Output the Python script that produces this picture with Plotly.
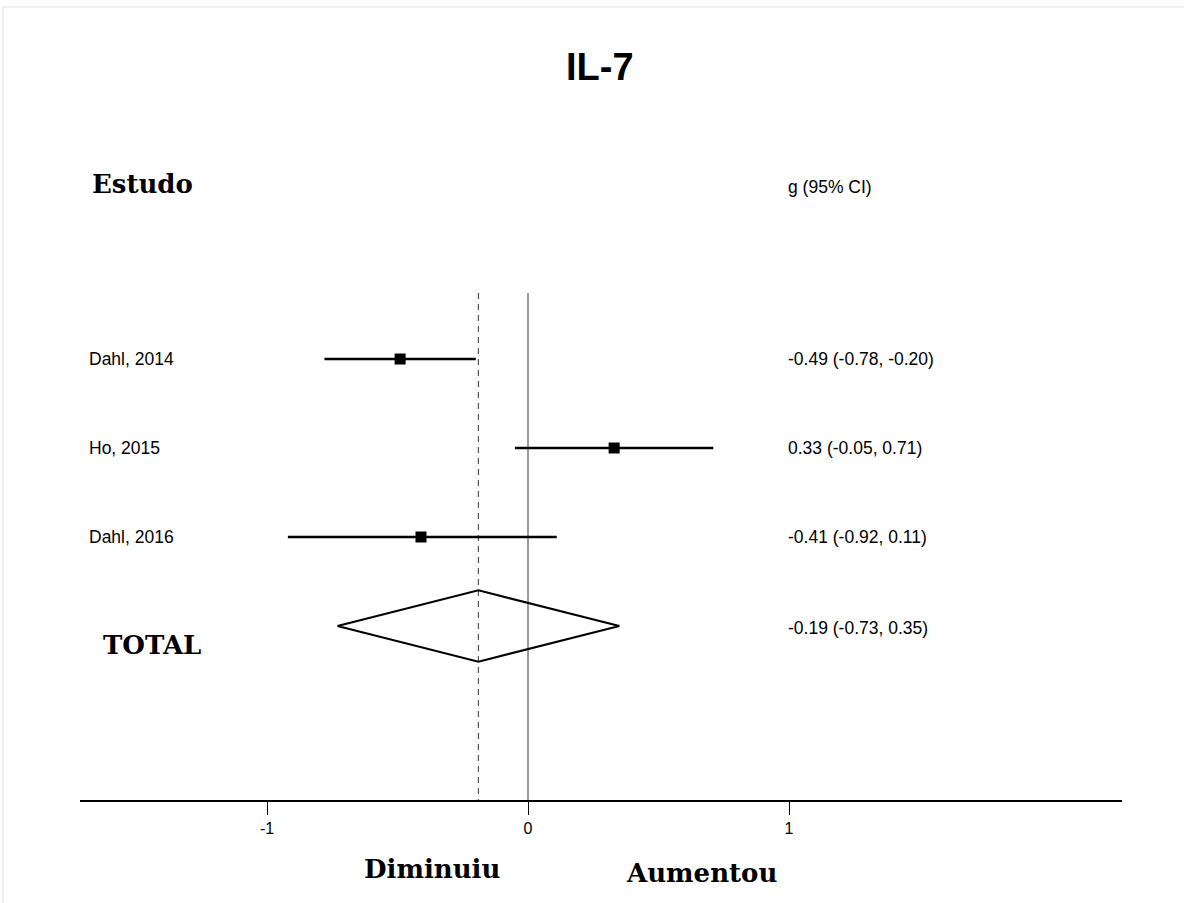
import plotly.graph_objects as go

# Study-level effect sizes (Hedges' g) with 95% confidence intervals
studies = ["Dahl, 2014", "Ho, 2015", "Dahl, 2016"]
g_values = [-0.49, 0.33, -0.41]
ci_low = [-0.78, -0.05, -0.92]
ci_high = [-0.20, 0.71, 0.11]

# Pooled estimate
total_label = "TOTAL"
total_g = -0.19
total_low = -0.73
total_high = 0.35

x_ticks = [-1, 0, 1]
x_tick_text = ["-1", "0", "1"]

title_text = "IL-7"
study_header = "Estudo"
effect_header = "g (95% CI)"
left_label = "Diminuiu"
right_label = "Aumentou"

# Figure geometry (pixels)
W, H = 1184, 903
L, R, T, B = 80, 62, 270, 103
PW, PH = W - L - R, H - T - B
X_RANGE = [-1.7165, 2.2759]
ROW_PX = 89.0
Y_RANGE = [PH / ROW_PX, 0]


def px_x(p):
    return (p - L) / PW


def px_y(p):
    return 1 - (p - T) / PH


def fmt_ci(g, lo, hi):
    return f"{g:.2f} ({lo:.2f}, {hi:.2f})"


rows = list(range(1, len(studies) + 1))
total_row = len(studies) + 1

serif = "DejaVu Serif"
sans = "Liberation Sans, Arial, sans-serif"
label_size = 17.5
head_size = 26

fig = go.Figure()

# Confidence interval whiskers
for r, lo, hi in zip(rows, ci_low, ci_high):
    fig.add_trace(go.Scatter(
        x=[lo, hi], y=[r, r], mode="lines",
        line=dict(color="black", width=2.5),
        showlegend=False, hoverinfo="skip"))

# Point estimates
fig.add_trace(go.Scatter(
    x=g_values, y=rows, mode="markers",
    marker=dict(symbol="square", size=11, color="black"),
    showlegend=False, hoverinfo="skip"))

# Pooled diamond
half_h = 0.4
fig.add_trace(go.Scatter(
    x=[total_low, total_g, total_high, total_g, total_low],
    y=[total_row, total_row - half_h, total_row, total_row + half_h, total_row],
    mode="lines", line=dict(color="black", width=2),
    showlegend=False, hoverinfo="skip"))

# Reference lines: null effect and pooled estimate
y_top = (293 - T) / ROW_PX
fig.add_shape(type="line", xref="x", yref="y", x0=0, x1=0, y0=y_top, y1=Y_RANGE[0],
              line=dict(color="#7a7a7a", width=1.5), layer="below")
fig.add_shape(type="line", xref="x", yref="y", x0=total_g, x1=total_g, y0=y_top, y1=Y_RANGE[0],
              line=dict(color="#555555", width=1.2, dash="6px,5px"), layer="below")

# Light frame around the page
fig.add_shape(type="rect", xref="paper", yref="paper",
              x0=px_x(3), x1=px_x(W + 10), y0=px_y(7), y1=px_y(H + 10),
              line=dict(color="#ececec", width=1.5))

ann = []
ann.append(dict(text=f"<b>{title_text}</b>", x=px_x(600), y=px_y(67),
                font=dict(family=sans, size=38, color="black")))
ann.append(dict(text=f"<b>{study_header}</b>", x=px_x(90), y=px_y(184), xanchor="left",
                font=dict(family=serif, size=head_size, color="black")))
ann.append(dict(text=effect_header, x=px_x(786), y=px_y(187), xanchor="left",
                font=dict(family=sans, size=label_size, color="black")))
for r, name, g, lo, hi in zip(rows, studies, g_values, ci_low, ci_high):
    ann.append(dict(text=name, x=px_x(87), y=r, yref="y", xanchor="left",
                    font=dict(family=sans, size=label_size, color="black")))
    ann.append(dict(text=fmt_ci(g, lo, hi), x=px_x(786), y=r, yref="y", xanchor="left",
                    font=dict(family=sans, size=label_size, color="black")))
ann.append(dict(text=fmt_ci(total_g, total_low, total_high), x=px_x(786), y=px_y(628),
                xanchor="left", font=dict(family=sans, size=label_size, color="black")))
ann.append(dict(text=f"<b>{total_label}</b>", x=px_x(101), y=px_y(645), xanchor="left",
                font=dict(family=serif, size=head_size, color="black")))
ann.append(dict(text=f"<b>{left_label}</b>", x=px_x(432), y=px_y(869),
                font=dict(family=serif, size=head_size, color="black")))
ann.append(dict(text=f"<b>{right_label}</b>", x=px_x(701), y=px_y(873),
                font=dict(family=serif, size=head_size, color="black")))

for a in ann:
    a.setdefault("xref", "paper")
    a.setdefault("yref", "paper")
    a.setdefault("xanchor", "center")
    a["yanchor"] = "middle"
    a["showarrow"] = False

fig.update_layout(
    width=W, height=H,
    margin=dict(l=L, r=R, t=T, b=B),
    paper_bgcolor="white", plot_bgcolor="white",
    annotations=ann,
    xaxis=dict(range=X_RANGE, tickvals=x_ticks, ticktext=x_tick_text,
               showgrid=False, zeroline=False, showline=True, linecolor="black",
               linewidth=2, ticks="outside", ticklen=13, tickwidth=1.2, tickcolor="black",
               tickfont=dict(family=sans, size=16, color="black")),
    yaxis=dict(range=Y_RANGE, showgrid=False, zeroline=False, showline=False,
               showticklabels=False, ticks=""),
)

fig.write_html("out.html")
